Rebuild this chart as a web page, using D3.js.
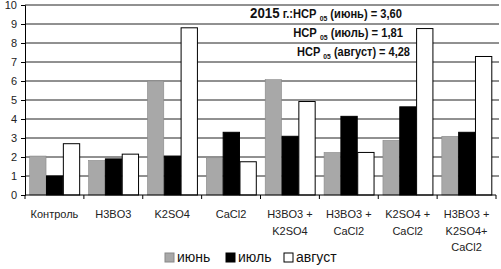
<!DOCTYPE html>
<html><head><meta charset="utf-8">
<script src="https://cdn.jsdelivr.net/npm/d3@7/dist/d3.min.js"></script>
<style>body{margin:0;background:#fff}svg{display:block}</style>
</head><body>
<svg id="c" width="501" height="269"></svg>
<script>
const categories = [["Контроль"],["H3BO3"],["K2SO4"],["CaCl2"],["H3BO3 +","K2SO4"],["H3BO3 +","CaCl2"],["K2SO4 +","CaCl2"],["H3BO3 +","K2SO4+","CaCl2"]];
const seriesNames = ["июнь","июль","август"];
const june   = [2.05, 1.82, 6.0, 1.92, 6.07, 2.24, 2.88, 3.09];
const july   = [1.0, 1.9, 2.05, 3.3, 3.09, 4.14, 4.64, 3.3];
const august = [2.7, 2.15, 8.8, 1.75, 4.92, 2.24, 8.76, 7.29];
const yTicks = [0,1,2,3,4,5,6,7,8,9,10];
const notes = [["2015 г.:НСР ","05"," (июнь) = 3,60"],["НСР ","05"," (июль) = 1,81"],["НСР ","05"," (август) = 4,28"]];

const fills = ["#a8a8a8","#000","#fff"];
const svg = d3.select("#c");
const L=25, R=496, T=5, B=195;
const x = d3.scaleBand().domain(d3.range(categories.length)).range([L,R]).paddingInner(0).paddingOuter(0);
const y = d3.scaleLinear().domain([0,10]).range([B,T]);
const xs = d3.scaleBand().domain(d3.range(3)).range([0,x.bandwidth()]).paddingOuter(0.25).paddingInner(0);

// gridlines
svg.append("g").selectAll("line").data(yTicks.filter(d=>d>0)).join("line")
  .attr("x1",L).attr("x2",R+3).attr("y1",d=>y(d)).attr("y2",d=>y(d))
  .attr("stroke","#222").attr("stroke-width",1);

// y axis
const ya = svg.append("g").attr("transform",`translate(${L},0)`).call(d3.axisLeft(y).tickValues(yTicks).tickSize(4).tickPadding(4));
ya.select(".domain").attr("stroke","#000");
ya.selectAll("text").attr("font-family","Liberation Sans, Arial, sans-serif").attr("font-size",11).attr("fill","#222");

// bars
const data = [june,july,august];
const g = svg.append("g");
data.forEach((vals,si)=>{
  g.selectAll(null).data(vals).join("rect")
    .attr("x",(d,i)=>x(i)+xs(si)+0.5)
    .attr("y",d=>y(d))
    .attr("width",xs.bandwidth()-0.5)
    .attr("height",d=>B-y(d))
    .attr("fill",fills[si])
    .attr("stroke",si===0?"#888":"#000").attr("stroke-width",si===0?0.6:1);
});

// x axis
svg.append("line").attr("x1",L).attr("x2",R).attr("y1",B).attr("y2",B).attr("stroke","#000");
svg.append("g").selectAll("line").data(d3.range(categories.length+1)).join("line")
  .attr("x1",i=>L+i*x.bandwidth()).attr("x2",i=>L+i*x.bandwidth())
  .attr("y1",B).attr("y2",B+4).attr("stroke","#000");

// category labels
categories.forEach((lines,i)=>{
  lines.forEach((t,j)=>{
    svg.append("text").attr("x",x(i)+x.bandwidth()/2).attr("y",218+j*16.5)
      .attr("text-anchor","middle").attr("font-family","Liberation Sans, Arial, sans-serif")
      .attr("font-size",11).attr("fill","#222").text(t);
  });
});

// notes
const bgG = svg.append("g");
const noteG = svg.append("g");
const noteRight=[402,403,410];
const noteWidth=[152,110,113];
const noteBase=[18,37,56];
notes.forEach((n,i)=>{
  const t = noteG.append("text").attr("x",noteRight[i]).attr("y",noteBase[i]).attr("text-anchor","end")
    .attr("font-family","Liberation Sans, Arial, sans-serif").attr("font-weight","bold").attr("font-size",13).attr("fill","#111");
  if(i===0){
    t.append("tspan").attr("font-size",15.5).text("2015");
    t.append("tspan").text(n[0].replace("2015",""));
  } else t.append("tspan").text(n[0]);
  t.append("tspan").attr("font-size",8).attr("dy",3).text(n[1]);
  t.append("tspan").attr("dy",-3).text(n[2]);
  const bb = t.node().getBBox();
  const sx = noteWidth[i]/bb.width;
  t.attr("transform",`translate(${noteRight[i]},0) scale(${sx},1) translate(${-noteRight[i]},0)`);
  bgG.append("rect").attr("x",noteRight[i]-noteWidth[i]-2).attr("y",bb.y+2).attr("width",noteWidth[i]+3).attr("height",bb.height-3).attr("fill","#fff");
});

// legend
const lx=[165,226,284];
seriesNames.forEach((s,i)=>{
  svg.append("rect").attr("x",lx[i]).attr("y",253).attr("width",9).attr("height",9)
    .attr("fill",fills[i]).attr("stroke",i===0?"#888":"#000");
  svg.append("text").attr("x",lx[i]+12).attr("y",262).attr("font-family","Liberation Sans, Arial, sans-serif")
    .attr("font-size",14).attr("fill","#111").text(s);
});
</script>
</body></html>
